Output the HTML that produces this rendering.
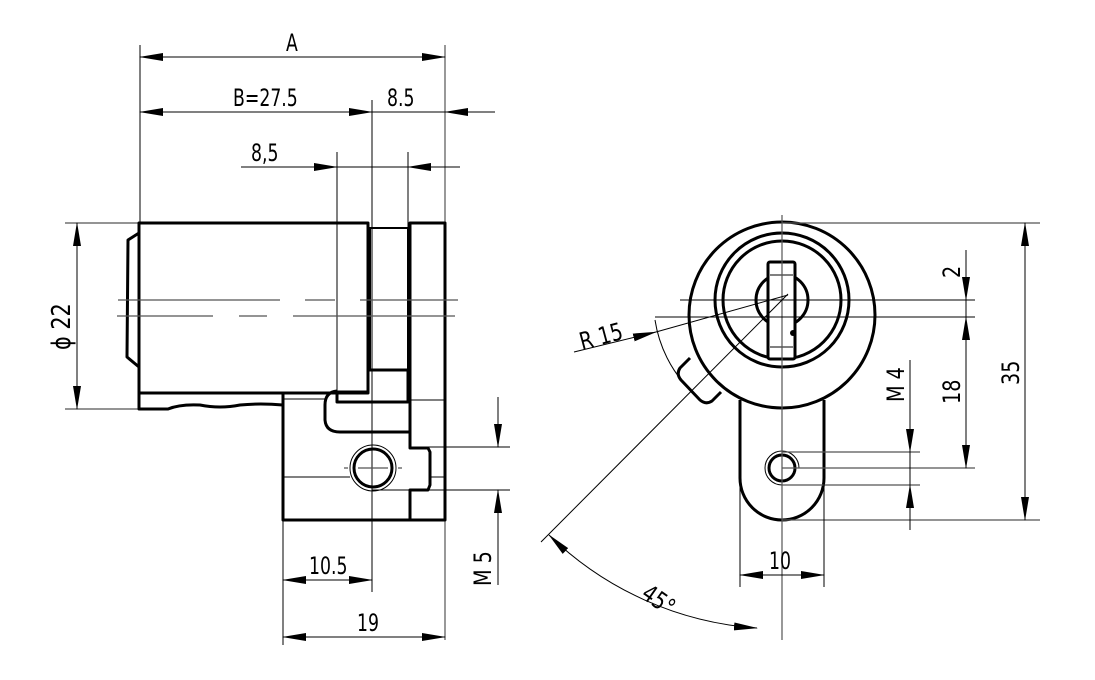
<!DOCTYPE html>
<html><head><meta charset="utf-8"><style>
html,body{margin:0;padding:0;background:#fff}
svg{display:block}
text{font-family:"DejaVu Sans","Liberation Sans",sans-serif;font-size:24px;fill:#000}
.t{stroke:#000;stroke-width:3;fill:none;stroke-linejoin:round}
.n{stroke:#000;stroke-width:1;fill:none}
.g{stroke:#555;stroke-width:1.2;fill:none}
</style></head><body>
<svg width="1095" height="680" viewBox="0 0 1095 680" xmlns="http://www.w3.org/2000/svg">
<defs>
<marker id="a" markerWidth="24" markerHeight="8" refX="23" refY="4" orient="auto-start-reverse" markerUnits="userSpaceOnUse">
<path d="M0,0 L24,4 L0,8 Z" fill="#000"/></marker>
</defs>

<!-- LEFT VIEW -->
<line class="n" x1="140" y1="45" x2="140" y2="222"/>
<line class="g" x1="445" y1="45" x2="445" y2="640"/>
<line class="n" x1="372" y1="100" x2="372" y2="592"/>
<line class="n" x1="337" y1="152" x2="337" y2="392"/>
<line class="n" x1="408" y1="152" x2="408" y2="228"/>
<line class="n" x1="283" y1="520" x2="283" y2="645"/>
<line class="g" x1="65" y1="223" x2="139" y2="223"/>
<line class="g" x1="65" y1="409" x2="140" y2="409"/>
<line class="n" x1="140" y1="57" x2="445" y2="57" marker-start="url(#a)" marker-end="url(#a)"/>
<text transform="translate(286,51) scale(0.72,1)">A</text>
<line class="n" x1="140" y1="112" x2="372" y2="112" marker-start="url(#a)" marker-end="url(#a)"/>
<line class="n" x1="495" y1="112" x2="445" y2="112" marker-end="url(#a)"/>
<line class="n" x1="372" y1="112" x2="445" y2="112"/>
<text transform="translate(233,106) scale(0.72,1)">B=27.5</text>
<text transform="translate(387,106) scale(0.72,1)">8.5</text>
<line class="n" x1="241" y1="167" x2="337" y2="167" marker-end="url(#a)"/>
<line class="n" x1="460" y1="167" x2="408" y2="167" marker-end="url(#a)"/>
<line class="n" x1="337" y1="167" x2="408" y2="167"/>
<text transform="translate(251,161) scale(0.72,1)">8,5</text>
<line class="n" x1="77" y1="223" x2="77" y2="409" marker-start="url(#a)" marker-end="url(#a)"/>
<text transform="translate(70,350) rotate(-90) scale(0.8,1)" style="font-size:26px">ϕ 22</text>

<rect class="t" x="139" y="223" width="229" height="170"/>
<path class="t" d="M139,233 L128,240 L127,357 L139,367"/>
<path class="t" d="M139,393 L139,409 L168,409 Q180,404 200,405 Q220,409 240,405 Q260,403 283,405"/>
<path class="t" d="M283,393 L283,520 L445,520"/>
<rect class="n" x="370" y="228" width="38" height="142" style="stroke-width:2"/>
<path class="t" d="M368,370 L408,370 L408,402 L337,402 L337,392 L368,392"/>
<path class="t" d="M337,391 Q325,392 325,405 L325,420 Q326,432 340,432 L410,432"/>
<path class="t" d="M410,223 L445,223 L445,520 L410,520 L410,490 L428,490 L430,485 L430,452 L428,448 L410,448 Z"/>
<line class="n" x1="410" y1="400" x2="445" y2="400"/>
<line class="n" x1="283" y1="399" x2="325" y2="399"/>
<line class="n" x1="283" y1="477" x2="350" y2="477"/>
<line class="n" x1="430" y1="477" x2="445" y2="477"/>
<path class="g" d="M118,300 H280 M305,300 H335 M360,300 H458"/>
<path class="g" d="M117,316 H213 M239,316 H267 M293,316 H455"/>
<circle class="t" cx="373" cy="468" r="19"/>
<circle class="n" cx="373" cy="468" r="23"/>
<path class="g" d="M344,468 H348 M358,468 H388 M398,468 H402"/>
<line class="n" x1="410" y1="447" x2="510" y2="447"/>
<line class="n" x1="372" y1="490" x2="510" y2="490"/>
<line class="n" x1="498" y1="397" x2="498" y2="447" marker-end="url(#a)"/>
<line class="n" x1="498" y1="585" x2="498" y2="490" marker-end="url(#a)"/>
<text transform="translate(491,586) rotate(-90) scale(0.8,1)">M 5</text>
<line class="n" x1="283" y1="580" x2="372" y2="580" marker-start="url(#a)" marker-end="url(#a)"/>
<text transform="translate(309,574) scale(0.72,1)">10.5</text>
<line class="n" x1="283" y1="637" x2="445" y2="637" marker-start="url(#a)" marker-end="url(#a)"/>
<text transform="translate(357,631) scale(0.72,1)">19</text>

<!-- RIGHT VIEW -->
<circle class="t" cx="782" cy="315" r="93"/>
<circle class="t" cx="782" cy="300" r="67"/>
<circle class="t" cx="782" cy="300" r="59"/>
<circle class="t" cx="782" cy="300" r="26"/>
<rect x="768" y="262" width="27" height="97" rx="2" fill="#fff" stroke="#000" stroke-width="3"/>
<line class="n" x1="770" y1="275" x2="793" y2="275"/>
<line class="n" x1="770" y1="347" x2="793" y2="347"/>
<circle cx="793" cy="333" r="3" fill="#000"/>
<path class="t" d="M740,400 L740,478 A42,42 0 0 0 824,478 L824,400"/>
<path class="t" d="M690,358 L680,368 Q676,374 681,380 L700,400 Q706,405 712,401 L721,392"/>
<circle class="t" cx="782" cy="468" r="13"/>
<path class="n" d="M782,485 A17,17 0 1 1 799,468"/>
<line class="g" x1="782" y1="215" x2="782" y2="640"/>
<line class="n" x1="680" y1="300" x2="975" y2="300"/>
<line class="n" x1="655" y1="317" x2="975" y2="317"/>
<line class="g" x1="782" y1="223" x2="1040" y2="223"/>
<line class="g" x1="782" y1="468" x2="975" y2="468"/>
<line class="g" x1="782" y1="452" x2="920" y2="452"/>
<line class="g" x1="782" y1="485" x2="920" y2="485"/>
<line class="g" x1="782" y1="520" x2="1040" y2="520"/>
<line class="n" x1="740" y1="480" x2="740" y2="587"/>
<line class="n" x1="824" y1="480" x2="824" y2="587"/>
<line class="n" x1="574" y1="352" x2="656" y2="332" marker-end="url(#a)"/>
<line class="n" x1="656" y1="332" x2="788" y2="295"/>
<path class="n" d="M655,320 A128,128 0 0 0 690,390"/>
<text transform="translate(582,350) rotate(-15) scale(0.8,1)">R 15</text>
<line class="n" x1="541" y1="542" x2="788" y2="294"/>
<path class="n" d="M549,535 A330,330 0 0 0 757,628" marker-start="url(#a)" marker-end="url(#a)"/>
<text transform="translate(640,597) rotate(35) scale(0.8,1)">45°</text>
<line class="n" x1="740" y1="575" x2="824" y2="575" marker-start="url(#a)" marker-end="url(#a)"/>
<text transform="translate(769,569) scale(0.72,1)">10</text>
<line class="n" x1="966" y1="250" x2="966" y2="300" marker-end="url(#a)"/>
<line class="n" x1="966" y1="317" x2="966" y2="468" marker-start="url(#a)" marker-end="url(#a)"/>
<line class="n" x1="966" y1="300" x2="966" y2="317"/>
<text transform="translate(960,278) rotate(-90) scale(0.8,1)">2</text>
<text transform="translate(960,404) rotate(-90) scale(0.8,1)">18</text>
<line class="n" x1="1025" y1="223" x2="1025" y2="520" marker-start="url(#a)" marker-end="url(#a)"/>
<text transform="translate(1019,385) rotate(-90) scale(0.8,1)">35</text>
<line class="n" x1="910" y1="360" x2="910" y2="452" marker-end="url(#a)"/>
<line class="n" x1="910" y1="530" x2="910" y2="485" marker-end="url(#a)"/>
<line class="n" x1="910" y1="452" x2="910" y2="485"/>
<text transform="translate(904,402) rotate(-90) scale(0.8,1)">M 4</text>
</svg>
</body></html>
